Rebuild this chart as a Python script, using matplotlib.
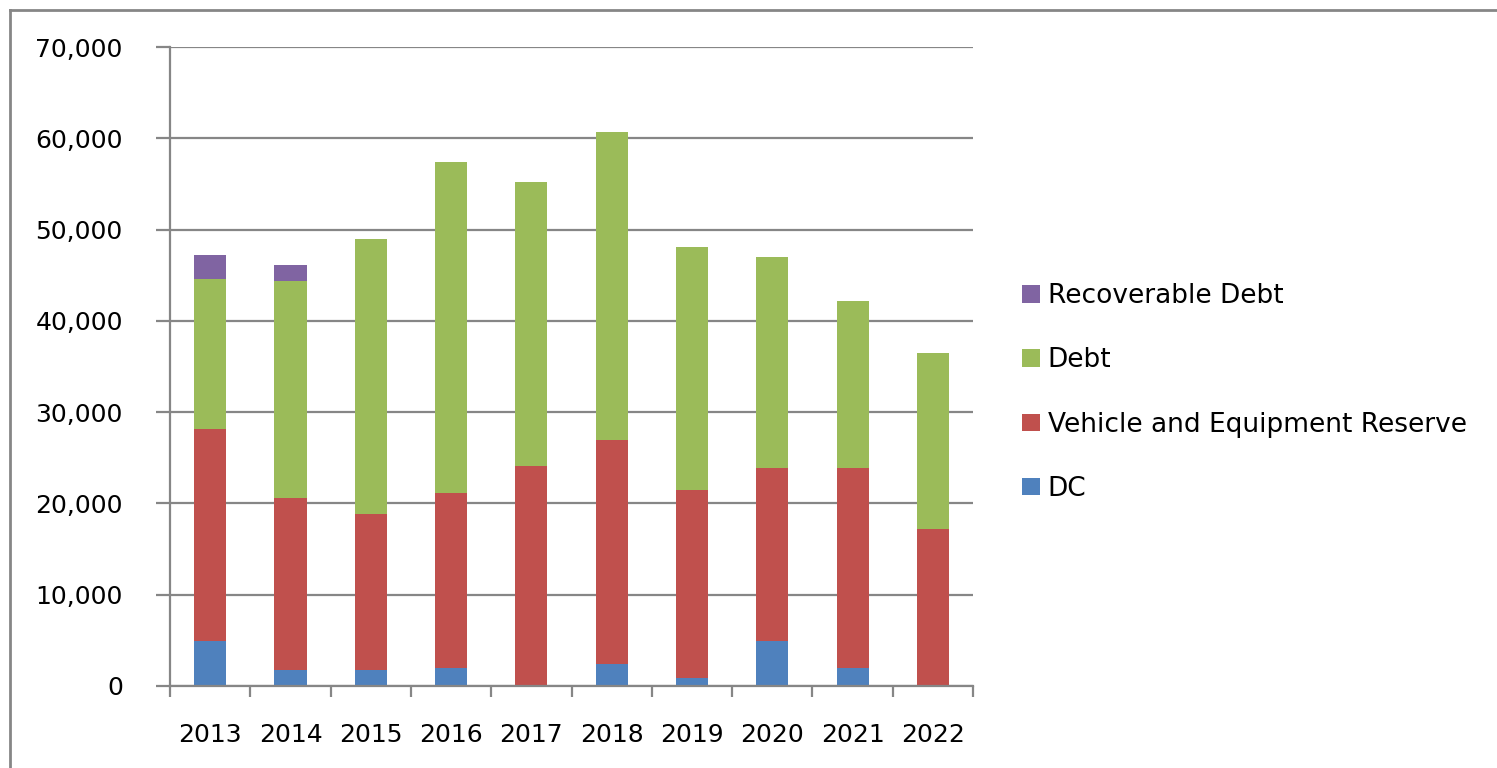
import matplotlib.pyplot as plt
import numpy as np
from matplotlib.lines import Line2D
from matplotlib.ticker import FuncFormatter

years = ["2013", "2014", "2015", "2016", "2017", "2018", "2019", "2020", "2021", "2022"]
dc = [4930, 1750, 1750, 2000, 0, 2370, 910, 4950, 2010, 0]
vehicle_reserve = [23180, 18810, 17050, 19100, 24120, 24610, 20580, 18900, 21840, 17170]
debt = [16470, 23770, 30160, 36290, 31090, 33740, 26550, 23180, 18270, 19340]
recoverable_debt = [2660, 1750, 0, 0, 0, 0, 0, 0, 0, 0]

series = [
    ("DC", dc, "#4F81BD"),
    ("Vehicle and Equipment Reserve", vehicle_reserve, "#C0504D"),
    ("Debt", debt, "#9BBB59"),
    ("Recoverable Debt", recoverable_debt, "#8064A2"),
]

grey = "#868686"
plt.rcParams["font.family"] = ["DejaVu Sans"]
plt.rcParams["font.size"] = 18

fig = plt.figure(figsize=(14.97, 7.68), dpi=100)
ax = fig.add_axes([0.1136, 0.1068, 0.5364, 0.832])

x = np.arange(len(years))
bottom = np.zeros(len(years))
handles = []
for name, vals, color in series:
    vals = np.array(vals, dtype=float)
    bars = ax.bar(x, vals, width=0.4, bottom=bottom, color=color, label=name, zorder=3)
    handles.append(bars)
    bottom += vals

ax.set_xlim(-0.5, len(years) - 0.5)
ax.set_ylim(0, 70000)
ax.set_yticks(np.arange(0, 70001, 10000))
ax.yaxis.set_major_formatter(FuncFormatter(lambda v, p: f"{int(v):,}"))
ax.grid(axis="y", color=grey, linewidth=1.6, zorder=0)

ax.set_xticks(x)
ax.set_xticklabels(years)
ax.set_xticks(np.arange(-0.5, len(years), 1.0), minor=True)
ax.tick_params(axis="x", which="major", length=0, pad=27)
ax.tick_params(axis="x", which="minor", length=8, width=1.6, color=grey, direction="out")
ax.tick_params(axis="y", length=10, width=1.6, color=grey, direction="out", pad=24)

for side in ("top", "right"):
    ax.spines[side].set_visible(False)
for side in ("left", "bottom"):
    ax.spines[side].set_color(grey)
    ax.spines[side].set_linewidth(1.6)
    ax.spines[side].set_zorder(4)

fig.legend(handles[::-1], [s[0] for s in series][::-1],
           loc="center left", bbox_to_anchor=(0.683, 0.489),
           frameon=False, borderpad=0, borderaxespad=0, fontsize=19,
           handlelength=0.65, handleheight=0.65, handletextpad=0.3,
           labelspacing=1.45)

# chart area border (top and left edges)
fig.add_artist(Line2D([0.0067, 0.0067], [0.0, 0.987], transform=fig.transFigure,
                      color=grey, linewidth=2))
fig.add_artist(Line2D([0.0067, 1.0], [0.987, 0.987], transform=fig.transFigure,
                      color=grey, linewidth=2))

fig.savefig("out.png", dpi=100)
